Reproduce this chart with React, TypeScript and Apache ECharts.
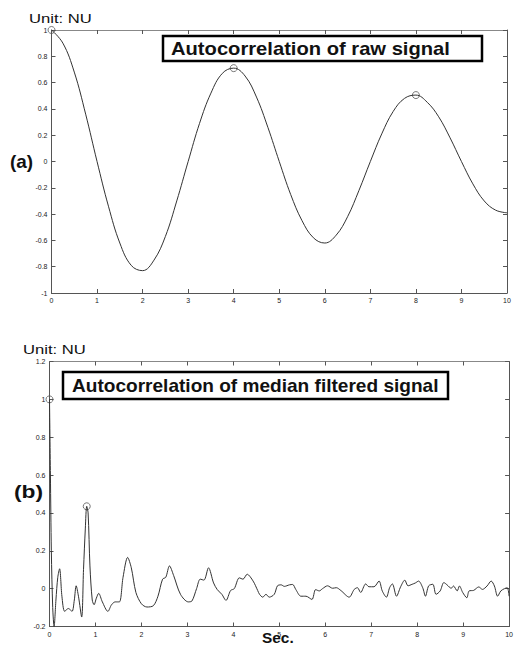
import React, { useEffect, useRef } from "react";
import * as echarts from "echarts";

// Autocorrelation of raw signal (lag in s, value in NU)
const rawLag = [0, 0.25, 0.5, 0.75, 1, 1.25, 1.5, 1.75, 2, 2.25, 2.5, 2.75, 3, 3.25, 3.5, 3.75, 4, 4.25, 4.5, 4.75, 5, 5.25, 5.5, 5.75, 6, 6.25, 6.5, 6.75, 7, 7.25, 7.5, 7.75, 8, 8.25, 8.5, 8.75, 9, 9.25, 9.5, 9.75, 10];
const rawAcf = [1.0, 0.9, 0.68, 0.36, 0.0, -0.34, -0.62, -0.79, -0.83, -0.75, -0.57, -0.3, 0.0, 0.29, 0.52, 0.67, 0.71, 0.65, 0.49, 0.26, 0.0, -0.25, -0.45, -0.58, -0.62, -0.56, -0.42, -0.22, 0.0, 0.21, 0.38, 0.48, 0.505, 0.45, 0.34, 0.18, 0.0, -0.17, -0.3, -0.37, -0.39];
const rawPeakLag = [0, 4, 8];
const rawPeakVal = [1.0, 0.71, 0.505];

// Autocorrelation of median filtered signal
const medLag = [0, 0.02, 0.04, 0.07, 0.1, 0.14, 0.18, 0.22, 0.27, 0.33, 0.41, 0.49, 0.54, 0.58, 0.63, 0.7, 0.74, 0.78, 0.81, 0.84, 0.88, 0.93, 0.97, 1.02, 1.07, 1.15, 1.27, 1.35, 1.43, 1.52, 1.6, 1.7, 1.78, 1.88, 2.0, 2.12, 2.26, 2.36, 2.46, 2.53, 2.61, 2.7, 2.85, 3.02, 3.1, 3.2, 3.28, 3.36, 3.46, 3.57, 3.65, 3.75, 3.84, 3.94, 4.02, 4.13, 4.21, 4.3, 4.43, 4.53, 4.57, 4.64, 4.71, 4.78, 4.89, 4.96, 5.04, 5.11, 5.22, 5.29, 5.36, 5.47, 5.58, 5.71, 5.79, 5.87, 5.94, 6.05, 6.16, 6.24, 6.34, 6.52, 6.63, 6.7, 6.77, 6.88, 6.95, 7.06, 7.17, 7.24, 7.33, 7.4, 7.46, 7.55, 7.64, 7.73, 7.8, 7.89, 7.96, 8.03, 8.12, 8.18, 8.25, 8.34, 8.41, 8.5, 8.58, 8.65, 8.74, 8.79, 8.87, 8.92, 8.99, 9.08, 9.13, 9.23, 9.34, 9.42, 9.52, 9.61, 9.68, 9.75, 9.82, 9.9, 9.96, 10.0];
const medAcf = [1.0, 0.6, 0.2, -0.1, -0.2, -0.06, 0.06, 0.105, -0.04, -0.12, -0.105, -0.12, -0.06, 0.015, -0.04, -0.15, 0.1, 0.32, 0.435, 0.4, 0.12, -0.06, -0.085, -0.05, -0.025, -0.07, -0.12, -0.085, -0.07, -0.07, 0.06, 0.165, 0.11, -0.02, -0.08, -0.097, -0.09, -0.04, 0.05, 0.06, 0.12, 0.07, -0.03, -0.07, -0.065, 0.0, 0.05, 0.045, 0.11, 0.03, -0.005, -0.03, -0.062, -0.01, 0.0, 0.057, 0.05, 0.076, 0.04, -0.01, -0.03, -0.045, -0.03, -0.045, -0.03, 0.015, 0.02, 0.012, 0.02, 0.022, -0.005, -0.04, -0.04, -0.057, -0.005, -0.012, 0.0, 0.015, 0.002, 0.005, -0.01, -0.045, -0.004, 0.005, -0.02, 0.025, 0.01, 0.01, 0.04, -0.012, -0.045, 0.005, 0.025, -0.04, 0.01, 0.045, 0.015, 0.023, 0.03, 0.04, 0.005, -0.04, 0.015, 0.023, -0.03, -0.012, 0.032, 0.02, 0.002, 0.014, -0.012, 0.014, -0.02, -0.048, -0.012, -0.009, 0.009, -0.004, 0.014, 0.04, 0.014, -0.04, -0.012, 0.0, 0.005, -0.04];
const medPeakLag = [0, 0.81];
const medPeakVal = [1.0, 0.435];

const titleA = "Autocorrelation of raw signal";
const titleB = "Autocorrelation of median filtered signal";
const unitText = "Unit: NU";
const xName = "Sec.";

const fmt = (v: number) => String(Math.round(v * 10) / 10);

const axisColor = "#555";

function xAxes(grid: number) {
  const base = {
    type: "value" as const,
    gridIndex: grid,
    min: 0,
    max: 10,
    interval: 1,
    splitLine: { show: false },
    axisLine: { show: true, onZero: false, lineStyle: { color: axisColor, width: 1 } },
    axisTick: { show: true, inside: true, length: 4, lineStyle: { color: axisColor } },
  };
  return [
    { ...base, position: "bottom", axisLabel: { show: true, fontSize: 7, color: "#222", margin: 4, fontFamily: "Liberation Sans" } },
    { ...base, position: "top", axisLabel: { show: false }, axisLine: { show: true, onZero: false, lineStyle: { color: "#888", width: 1 } } },
  ];
}

function yAxes(grid: number, min: number, max: number) {
  const base = {
    type: "value" as const,
    gridIndex: grid,
    min,
    max,
    interval: 0.2,
    splitLine: { show: false },
    axisLine: { show: true, onZero: false, lineStyle: { color: axisColor, width: 1 } },
    axisTick: { show: true, inside: true, length: 4, lineStyle: { color: axisColor } },
  };
  return [
    { ...base, position: "left", axisLabel: { show: true, fontSize: 7, color: "#222", margin: 4, formatter: fmt, fontFamily: "Liberation Sans" } },
    { ...base, position: "right", axisLabel: { show: false } },
  ];
}

function textEl(text: string, x: number, y: number, size: number, weight: string, scaleX: number) {
  return {
    type: "text",
    x,
    y,
    scaleX,
    z: 110,
    style: {
      text,
      fontSize: size,
      fontWeight: weight,
      fontFamily: "Liberation Sans, Arial, sans-serif",
      fill: "#111",
      verticalAlign: "middle",
      align: "left",
    },
  };
}

export default function App() {
  const ref = useRef<HTMLDivElement>(null);
  useEffect(() => {
    if (!ref.current) return;
    const chart = echarts.init(ref.current, null, { renderer: "svg" });
    const lineStyle = { color: "#333", width: 1 };
    const markerStyle = { color: "rgba(255,255,255,0)", borderColor: "#555", borderWidth: 1 };
    chart.setOption({
      animation: false,
      backgroundColor: "#fff",
      grid: [
        { left: 51.5, top: 30, width: 455.5, height: 263 },
        { left: 49.5, top: 361.5, width: 461, height: 265 },
      ],
      xAxis: [...xAxes(0), ...xAxes(1)],
      yAxis: [...yAxes(0, -1, 1), ...yAxes(1, -0.2, 1.2)],
      series: [
        {
          type: "line",
          xAxisIndex: 0,
          yAxisIndex: 0,
          data: rawLag.map((t, i) => [t, rawAcf[i]]),
          showSymbol: false,
          smooth: 0.4,
          lineStyle,
        },
        {
          type: "scatter",
          xAxisIndex: 0,
          yAxisIndex: 0,
          data: rawPeakLag.map((t, i) => [t, rawPeakVal[i]]),
          symbol: "circle",
          symbolSize: 7,
          itemStyle: markerStyle,
        },
        {
          type: "line",
          xAxisIndex: 2,
          yAxisIndex: 2,
          data: medLag.map((t, i) => [t, medAcf[i]]),
          showSymbol: false,
          smooth: 0.3,
          lineStyle,
        },
        {
          type: "scatter",
          xAxisIndex: 2,
          yAxisIndex: 2,
          data: medPeakLag.map((t, i) => [t, medPeakVal[i]]),
          symbol: "circle",
          symbolSize: 7,
          itemStyle: markerStyle,
        },
      ],
      graphic: [
        {
          type: "rect",
          z: 100,
          shape: { x: 163, y: 36, width: 319, height: 25 },
          style: { fill: "#fff", stroke: "#000", lineWidth: 2.5 },
        },
        {
          type: "rect",
          z: 100,
          shape: { x: 63, y: 372, width: 385, height: 27 },
          style: { fill: "#fff", stroke: "#000", lineWidth: 2.5 },
        },
        textEl(titleA, 171, 49, 18, "bold", 1.12),
        textEl(titleB, 72, 386, 18, "bold", 1.06),
        textEl(unitText, 29, 18, 13, "normal", 1.28),
        textEl(unitText, 23, 349, 13, "normal", 1.28),
        textEl("(a)", 10, 162, 18, "bold", 1.05),
        textEl("(b)", 14, 491, 19, "bold", 1.2),
        textEl(xName, 262, 638, 14, "bold", 1.1),
      ],
    });
    return () => chart.dispose();
  }, []);
  return <div ref={ref} style={{ position: "absolute", left: 0, top: 0, width: 516, height: 646 }} />;
}
